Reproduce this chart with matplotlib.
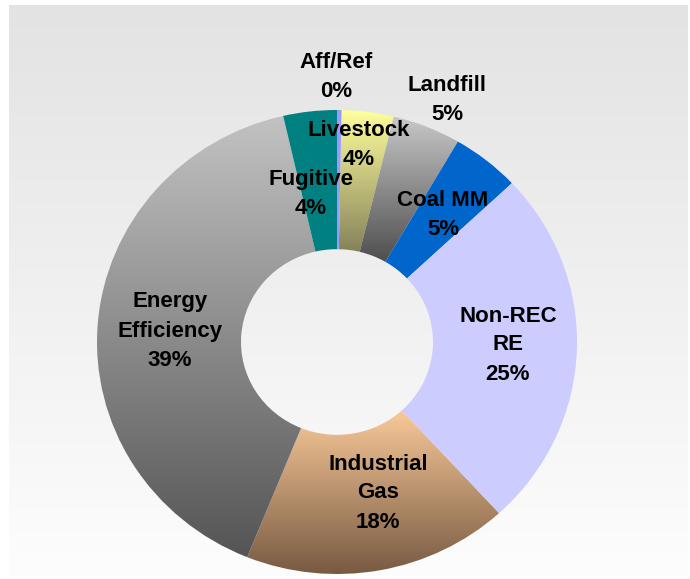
import numpy as np
import matplotlib
matplotlib.use("Agg")
import matplotlib.pyplot as plt
from matplotlib.colors import to_rgb

# slice shares (clockwise from 12 o'clock)
names = ["Aff/Ref", "Livestock", "Landfill", "Coal MM", "Non-REC RE",
         "Industrial Gas", "Energy Efficiency", "Fugitive"]
shares = [0.3, 3.5, 4.6, 4.6, 25.2, 17.9, 40.3, 3.6]
labels = ["Aff/Ref\n0%", "Livestock\n4%", "Landfill\n5%", "Coal MM\n5%",
          "Non-REC\nRE\n25%", "Industrial\nGas\n18%", "Energy\nEfficiency\n39%",
          "Fugitive\n4%"]

# fills: (top colour, bottom colour); same colour twice = solid
fills = [("#9999ff", "#9999ff"),
         ("#ffff9c", "#85825a"),
         ("#c8c8c8", "#4e4e4e"),
         ("#0066cc", "#0066cc"),
         ("#ccccff", "#ccccff"),
         ("#f9c999", "#785a42"),
         ("#c2c2c2", "#555555"),
         ("#008080", "#008080")]

# label centres in pixels
label_xy = [(336, 77), (359, 145), (447, 100), (443, 215),
            (508, 345), (378, 493), (170, 331), (311, 194)]

W, H = 690, 579
fig = plt.figure(figsize=(W / 100, H / 100), dpi=100)

# background panel with a soft vertical gradient
bg = fig.add_axes([0, 0, 1, 1])
bg.set_xlim(0, W)
bg.set_ylim(H, 0)
bg.axis("off")
top, bot = np.array(to_rgb("#e3e3e3")), np.array(to_rgb("#fdfdfd"))
t = np.linspace(0, 1, 256)[:, None, None]
bg.imshow(top + (bot - top) * t, extent=(9, 688, 576, 5), aspect="auto",
          interpolation="bilinear")

# pie axes mapped onto the (slightly elliptical) donut
ax = fig.add_axes([97 / W, (H - 574) / H, 480 / W, 464 / H])
wedges, _ = ax.pie(shares, startangle=90, counterclock=False, radius=1,
                   wedgeprops=dict(width=0.6, linewidth=0))

for w, (c_top, c_bot) in zip(wedges, fills):
    if c_top == c_bot:
        w.set_facecolor(c_top)
        continue
    w.set_facecolor("none")
    bb = w.get_path().get_extents()
    a, b = np.array(to_rgb(c_top)), np.array(to_rgb(c_bot))
    grad = a + (b - a) * t
    im = ax.imshow(grad, extent=(bb.x0, bb.x1, bb.y0, bb.y1), origin="upper",
                   aspect="auto", interpolation="bilinear")
    im.set_clip_path(w)

ax.set_xlim(-1, 1)
ax.set_ylim(-1, 1)
ax.set_aspect("auto")
ax.axis("off")

for txt, (x, y) in zip(labels, label_xy):
    fig.text(x / W, 1 - y / H, txt, ha="center", va="center",
             fontsize=16, fontweight="bold", family="Liberation Sans",
             linespacing=1.5, multialignment="center")

fig.savefig("out.png", dpi=100)
